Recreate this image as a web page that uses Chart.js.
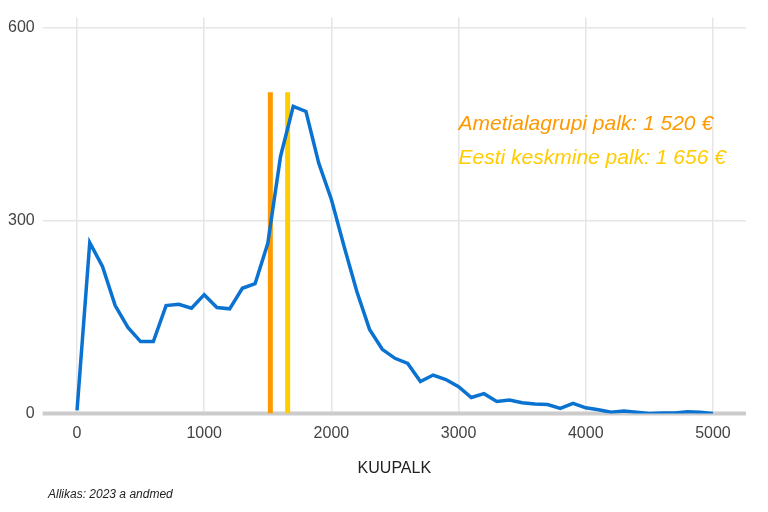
<!DOCTYPE html>
<html>
<head>
<meta charset="utf-8">
<script src="https://cdn.jsdelivr.net/npm/chart.js@4"></script>
<style>
  body { margin: 0; background: #fff; }
  #wrap { position: relative; width: 768px; height: 512px; }
  #cap { position: absolute; left: 48px; top: 487px; font: italic 12px "Liberation Sans", Arial, sans-serif; color: #222; }
</style>
</head>
<body>
<div id="wrap">
  <canvas id="c" width="768" height="512"></canvas>
  <div id="cap">Allikas: 2023 a andmed</div>
</div>
<script>
// palgajaotus, samm 100 €
const palk = [0,100,200,300,400,500,600,700,800,900,1000,1100,1200,1300,1400,1500,1600,1700,1800,1900,
  2000,2100,2200,2300,2400,2500,2600,2700,2800,2900,3000,3100,3200,3300,3400,3500,3600,3700,3800,3900,
  4000,4100,4200,4300,4400,4500,4600,4700,4800,4900,5000];
const arv = [5,266,229,168,134,112,112,168,170,164,185,165,163,195,202,265,400,478,470,390,
  333,260,190,131,100,86,78,50,60,53,42,25,31,19,21,17,15,14,8,16,
  9,6,2,4,2,0,1,1,3,2,0];
const yTicks = [0, 300, 600];
const xTicks = [0, 1000, 2000, 3000, 4000, 5000];
const ametiPalk = 1520;
const eestiPalk = 1656;
const joonKorgus = 500;

const labelsPlugin = {
  id: 'labels',
  afterDraw(chart) {
    const ctx = chart.ctx;
    const x = chart.scales.x, y = chart.scales.y;
    ctx.save();
    ctx.font = 'italic 21px "Liberation Sans", Arial, sans-serif';
    ctx.textBaseline = 'middle';
    ctx.fillStyle = '#FF9900';
    ctx.fillText('Ametialagrupi palk: 1 520 €', x.getPixelForValue(3000), y.getPixelForValue(450));
    ctx.fillStyle = '#FFCC00';
    ctx.fillText('Eesti keskmine palk: 1 656 €', x.getPixelForValue(3000), y.getPixelForValue(397));
    ctx.restore();
  }
};

const zeroLine = {
  id: 'zeroLine',
  beforeDatasetsDraw(chart) {
    const ctx = chart.ctx, a = chart.chartArea, y0 = chart.scales.y.getPixelForValue(0);
    ctx.save();
    ctx.strokeStyle = '#cccccc';
    ctx.lineWidth = 4;
    ctx.beginPath(); ctx.moveTo(a.left, y0); ctx.lineTo(a.right, y0); ctx.stroke();
    ctx.restore();
  }
};

new Chart(document.getElementById('c'), {
  type: 'scatter',
  data: {
    datasets: [
      { data: palk.map((p, i) => ({ x: p, y: arv[i] })), showLine: true, borderColor: '#0a72d0',
        borderWidth: 3.5, pointRadius: 0, tension: 0 },
      { data: [{ x: ametiPalk, y: 0 }, { x: ametiPalk, y: joonKorgus }], showLine: true,
        borderColor: '#FF9900', borderWidth: 5, pointRadius: 0 },
      { data: [{ x: eestiPalk, y: 0 }, { x: eestiPalk, y: joonKorgus }], showLine: true,
        borderColor: '#FFCC00', borderWidth: 5, pointRadius: 0 }
    ]
  },
  options: {
    responsive: false,
    animation: false,
    layout: { padding: { left: 0, right: 22, top: 0, bottom: 30 } },
    plugins: { legend: { display: false }, tooltip: { enabled: false } },
    scales: {
      x: {
        type: 'linear', min: -270, max: 5260,
        afterBuildTicks: s => { s.ticks = xTicks.map(v => ({ value: v })); },
        grid: { color: '#e6e6e6', lineWidth: 1.5, drawTicks: false },
        border: { display: false },
        ticks: { color: '#444', font: { size: 16, family: 'Liberation Sans' }, padding: 10,
          callback: v => String(v) },
        title: { display: true, text: 'KUUPALK', color: '#222', font: { size: 16, family: 'Liberation Sans' }, padding: { top: 6 } }
      },
      y: {
        min: 0, max: 616,
        afterBuildTicks: s => { s.ticks = yTicks.map(v => ({ value: v })); },
        grid: { color: '#e6e6e6', lineWidth: 1.5, drawTicks: false },
        border: { display: false },
        ticks: { color: '#444', font: { size: 16, family: 'Liberation Sans' }, padding: 8,
          callback: v => String(v) }
      }
    }
  },
  plugins: [zeroLine, labelsPlugin]
});
</script>
</body>
</html>
